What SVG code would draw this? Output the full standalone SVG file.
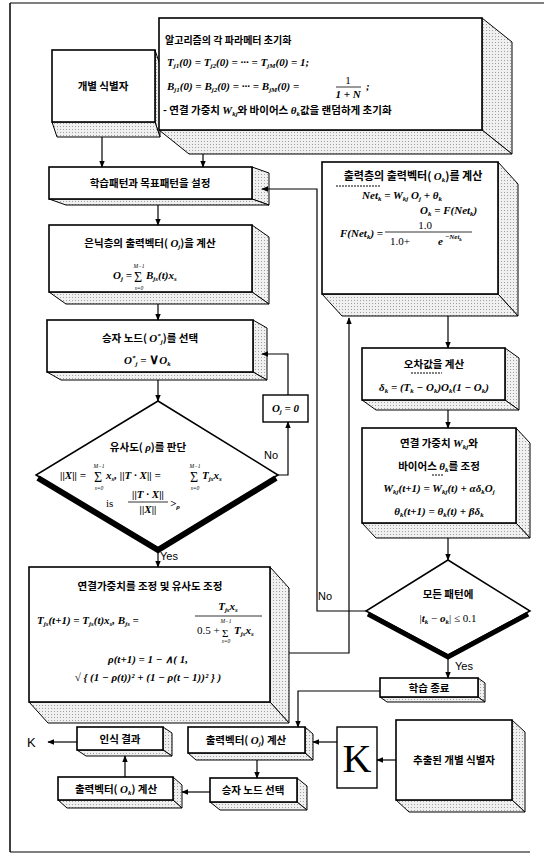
<svg xmlns="http://www.w3.org/2000/svg" width="544" height="854" viewBox="0 0 544 854">
<defs>
<marker id="ah" viewBox="0 0 10 10" refX="9" refY="5" markerWidth="7" markerHeight="7" orient="auto-start-reverse" markerUnits="userSpaceOnUse">
<path d="M0,1 L10,5 L0,9 z" fill="#000"/>
</marker>
<pattern id="dots" width="3" height="3" patternUnits="userSpaceOnUse">
<rect width="3" height="3" fill="#f0f0f0"/>
<rect width="1" height="1" fill="#a0a0a0"/>
</pattern>
</defs>
<style>
.f{fill:#fff;stroke:#000;stroke-width:1.6}
.s{fill:url(#dots);stroke:#000;stroke-width:1}
.k{font-family:"Noto Sans CJK KR","Noto Sans",sans-serif;font-weight:bold;font-size:10.5px;fill:#000}
.m{font-family:"Liberation Serif",serif;font-style:italic;font-weight:bold;font-size:11px;fill:#000}
.r{font-family:"Liberation Serif",serif;font-size:11px;fill:#000}
.sb{font-size:7px}
.sg{font-family:"Liberation Serif",serif;font-size:14px;fill:#000}
.lim{font-family:"Liberation Serif",serif;font-size:5.5px;font-style:italic;fill:#000}
.c{stroke:#000;stroke-width:1.2;fill:none}
.a{marker-end:url(#ah)}
.th{stroke:#000;stroke-width:6;fill:none;stroke-linejoin:miter}
.lb{font-family:"Liberation Sans",sans-serif;font-size:11px;fill:#000}
</style>

<!-- frame -->
<g id="frame">
<line x1="10" y1="3" x2="544" y2="3" stroke="#000" stroke-width="1.2"/>
<line x1="10" y1="3" x2="10" y2="852" stroke="#000" stroke-width="1.5"/>
<line x1="10" y1="852" x2="530" y2="852" stroke="#000" stroke-width="1.2"/>
</g>

<!-- nodes -->
<g id="n_id">
<polygon class="s" points="155,50 160,65 160,137 155,122"/>
<polygon class="s" points="52,122 155,122 160,137 57,137"/>
<rect class="f" x="52" y="50" width="103" height="72"/>
<text class="k" x="103" y="90" text-anchor="middle">개별 식별자</text>
</g>

<g id="n_init">
<polygon class="s" points="482,18 512,42 512,154 482,130"/>
<polygon class="s" points="159,130 482,130 512,154 189,154"/>
<rect class="f" x="159" y="18" width="323" height="112"/>
<text class="k" x="165" y="44" style="font-size:10px">알고리즘의 각 파라메터 초기화</text>
<text class="m" x="167" y="66">T<tspan class="sb" dy="2">j1</tspan><tspan dy="-2">(0) = T</tspan><tspan class="sb" dy="2">j2</tspan><tspan dy="-2">(0) = ··· = T</tspan><tspan class="sb" dy="2">jM</tspan><tspan dy="-2">(0) = 1;</tspan></text>
<text class="m" x="167" y="90">B<tspan class="sb" dy="2">j1</tspan><tspan dy="-2">(0) = B</tspan><tspan class="sb" dy="2">j2</tspan><tspan dy="-2">(0) = ··· = B</tspan><tspan class="sb" dy="2">jM</tspan><tspan dy="-2">(0) = </tspan></text>
<text class="r" x="348" y="84" text-anchor="middle">1</text>
<line x1="336" y1="87" x2="361" y2="87" stroke="#000" stroke-width="0.8"/>
<text class="m" x="348" y="98" text-anchor="middle">1 + N</text>
<text class="m" x="366" y="90">;</text>
<text class="k" x="163" y="114">- 연결 가중치  <tspan class="m">W</tspan><tspan class="m sb" dy="2">kj</tspan><tspan dy="-2">와 바이어스  </tspan><tspan class="m">θ</tspan><tspan class="m sb" dy="2">k</tspan><tspan dy="-2">값을 랜덤하게 초기화</tspan></text>
</g>

<g id="n_set">
<polygon class="s" points="252,167 269,173 269,205 252,199"/>
<polygon class="s" points="49,199 252,199 269,205 66,205"/>
<rect class="f" x="49" y="167" width="203" height="32"/>
<text class="k" x="150" y="187" text-anchor="middle">학습패턴과 목표패턴을 설정</text>
</g>

<g id="n_hidden">
<polygon class="s" points="252,225 269,237 269,304 252,292"/>
<polygon class="s" points="49,292 252,292 269,304 66,304"/>
<rect class="f" x="49" y="225" width="203" height="67"/>
<text class="k" x="150" y="247" text-anchor="middle">은닉층의 출력벡터( <tspan class="m">O</tspan><tspan class="m sb" dy="2">j</tspan><tspan dy="-2">)을 계산</tspan></text>
<text class="m" x="113" y="279">O<tspan class="sb" dy="2">j</tspan><tspan dy="-2"> = </tspan></text>
<text class="sg" x="134" y="282">Σ</text>
<text class="lim" x="139" y="268" text-anchor="middle">M−1</text>
<text class="lim" x="139" y="290" text-anchor="middle">s=0</text>
<text class="m" x="146" y="279">B<tspan class="sb" dy="2">js</tspan><tspan dy="-2">(t)x</tspan><tspan class="sb" dy="2">s</tspan></text>
</g>

<g id="n_winner">
<polygon class="s" points="253,320 267,328 267,380 253,372"/>
<polygon class="s" points="47,372 253,372 267,380 61,380"/>
<rect class="f" x="47" y="320" width="206" height="52"/>
<text class="k" x="150" y="342" text-anchor="middle">승자 노드( <tspan class="m">O</tspan><tspan class="m sb" dy="-4">*</tspan><tspan class="m sb" dy="6">j</tspan><tspan dy="-2">)를 선택</tspan></text>
<text class="m" x="124" y="364">O<tspan class="sb" dy="-4">*</tspan><tspan class="sb" dy="6">j</tspan><tspan dy="-2"> = </tspan><tspan class="r" style="font-size:14px;font-style:normal">∨</tspan><tspan>O</tspan><tspan class="sb" dy="2">k</tspan></text>
</g>

<g id="n_sim">
<polygon points="158,401 278,475 158,548 36,475" fill="#fff" stroke="#000" stroke-width="1.5"/>
<polyline class="th" points="38,478 158,550 276,478"/>
<text class="k" x="148" y="451" text-anchor="middle">유사도( <tspan class="m">ρ</tspan>)를 판단</text>
<text class="m" x="60" y="479">||X|| = </text>
<text class="sg" x="94" y="482">Σ</text>
<text class="lim" x="99" y="468" text-anchor="middle">M−1</text>
<text class="lim" x="99" y="490" text-anchor="middle">s=0</text>
<text class="m" x="106" y="479">x<tspan class="sb" dy="2">s</tspan><tspan dy="-2">,    ||T · X|| = </tspan></text>
<text class="sg" x="190" y="482">Σ</text>
<text class="lim" x="195" y="468" text-anchor="middle">M−1</text>
<text class="lim" x="195" y="490" text-anchor="middle">s=0</text>
<text class="m" x="202" y="479">T<tspan class="sb" dy="2">js</tspan><tspan dy="-2">x</tspan><tspan class="sb" dy="2">s</tspan></text>
<text class="r" x="106" y="507">is</text>
<text class="m" x="148" y="498" text-anchor="middle">||T · X||</text>
<line x1="128" y1="502" x2="168" y2="502" stroke="#000" stroke-width="0.8"/>
<text class="m" x="148" y="513" text-anchor="middle">||X||</text>
<text class="m" x="170" y="507">&gt;<tspan class="sb" dy="2">ρ</tspan></text>
</g>

<g id="n_zero">
<rect x="263" y="395" width="45" height="27" fill="#fff" stroke="#000" stroke-width="1.4"/>
<text class="m" x="285.5" y="412" text-anchor="middle">O<tspan class="sb" dy="2">j</tspan><tspan dy="-2"> = 0</tspan></text>
</g>

<g id="n_update">
<polygon class="s" points="270,567 289,588 289,723 270,702"/>
<polygon class="s" points="29,702 270,702 289,723 48,723"/>
<rect class="f" x="29" y="567" width="241" height="135"/>
<text class="k" x="150" y="590" text-anchor="middle">연결가중치를 조정 및 유사도 조정</text>
<text class="m" x="37" y="624">T<tspan class="sb" dy="2">js</tspan><tspan dy="-2">(t+1) = T</tspan><tspan class="sb" dy="2">js</tspan><tspan dy="-2">(t)x</tspan><tspan class="sb" dy="2">s</tspan><tspan dy="-2">,  B</tspan><tspan class="sb" dy="2">js</tspan><tspan dy="-2"> = </tspan></text>
<text class="m" x="228" y="610" text-anchor="middle">T<tspan class="sb" dy="2">js</tspan><tspan dy="-2">x</tspan><tspan class="sb" dy="2">s</tspan></text>
<line x1="195" y1="616" x2="262" y2="616" stroke="#000" stroke-width="0.8"/>
<text class="r" x="197" y="634">0.5 +</text>
<text class="sg" x="222" y="637" style="font-size:11px">Σ</text>
<text class="lim" x="226" y="622.5" text-anchor="middle">M−1</text>
<text class="lim" x="226" y="643" text-anchor="middle">s=0</text>
<text class="m" x="234" y="634">T<tspan class="sb" dy="2">js</tspan><tspan dy="-2">x</tspan><tspan class="sb" dy="2">s</tspan></text>
<text class="m" x="148" y="663" text-anchor="middle">ρ(t+1) = 1 − ∧( 1,</text>
<text class="m" x="148" y="681" text-anchor="middle">√  { (1 − ρ(t))² + (1 − ρ(t − 1))² } )</text>
</g>

<g id="n_output">
<polygon class="s" points="498,162 518,184 518,316 498,294"/>
<polygon class="s" points="322,294 498,294 518,316 342,316"/>
<rect class="f" x="322" y="162" width="176" height="132"/>
<text class="k" x="413" y="180" text-anchor="middle" style="font-size:11px">출력층의 출력벡터( <tspan class="m">O</tspan><tspan class="m sb" dy="2">k</tspan><tspan dy="-2">)를 계산</tspan></text>
<line x1="336" y1="186" x2="381" y2="186" stroke="#000" stroke-width="1" stroke-dasharray="2,1"/>
<text class="m" x="402" y="199" text-anchor="middle">Net<tspan class="sb" dy="2">k</tspan><tspan dy="-2"> = W</tspan><tspan class="sb" dy="2">kj</tspan><tspan dy="-2"> O</tspan><tspan class="sb" dy="2">j</tspan><tspan dy="-2"> + θ</tspan><tspan class="sb" dy="2">k</tspan></text>
<text class="m" x="420" y="214">O<tspan class="sb" dy="2">k</tspan><tspan dy="-2"> = F(Net</tspan><tspan class="sb" dy="2">k</tspan><tspan dy="-2">)</tspan></text>
<text class="m" x="340" y="237">F(Net<tspan class="sb" dy="2">k</tspan><tspan dy="-2">) = </tspan></text>
<text class="r" x="425" y="229" text-anchor="middle">1.0</text>
<line x1="385" y1="232" x2="472" y2="232" stroke="#000" stroke-width="0.8"/>
<text class="r" x="390" y="245">1.0+</text>
<text class="m" x="438" y="245">e</text>
<text class="m sb" x="445" y="239">−Net<tspan style="font-size:5px" dy="2">k</tspan></text>
</g>

<g id="n_error">
<polygon class="s" points="505,348 519,358 519,410 505,400"/>
<polygon class="s" points="362,400 505,400 519,410 376,410"/>
<rect class="f" x="362" y="348" width="143" height="52"/>
<text class="k" x="434" y="368" text-anchor="middle">오차값을 계산</text>
<line x1="411" y1="373" x2="442" y2="373" stroke="#000" stroke-width="1" stroke-dasharray="2,1"/>
<text class="m" x="434" y="391" text-anchor="middle">δ<tspan class="sb" dy="2">k</tspan><tspan dy="-2"> = (T</tspan><tspan class="sb" dy="2">k</tspan><tspan dy="-2"> − O</tspan><tspan class="sb" dy="2">k</tspan><tspan dy="-2">)O</tspan><tspan class="sb" dy="2">k</tspan><tspan dy="-2">(1 − O</tspan><tspan class="sb" dy="2">k</tspan><tspan dy="-2">)</tspan></text>
</g>

<g id="n_adjust">
<polygon class="s" points="516,428 530,443 530,538 516,523"/>
<polygon class="s" points="362,523 516,523 530,538 376,538"/>
<rect class="f" x="362" y="428" width="154" height="95"/>
<text class="k" x="439" y="447" text-anchor="middle">연결 가중치  <tspan class="m">W</tspan><tspan class="m sb" dy="2">kj</tspan><tspan dy="-2">와</tspan></text>
<text class="k" x="439" y="470" text-anchor="middle">바이어스  <tspan class="m">θ</tspan><tspan class="m sb" dy="2">k</tspan><tspan dy="-2">를 조정</tspan></text>
<line x1="432" y1="475" x2="444" y2="475" stroke="#000" stroke-width="1" stroke-dasharray="2,1"/>
<text class="m" x="439" y="492" text-anchor="middle">W<tspan class="sb" dy="2">kj</tspan><tspan dy="-2">(t+1) = W</tspan><tspan class="sb" dy="2">kj</tspan><tspan dy="-2">(t) + αδ</tspan><tspan class="sb" dy="2">k</tspan><tspan dy="-2">O</tspan><tspan class="sb" dy="2">j</tspan></text>
<text class="m" x="439" y="515" text-anchor="middle">θ<tspan class="sb" dy="2">k</tspan><tspan dy="-2">(t+1) = θ</tspan><tspan class="sb" dy="2">k</tspan><tspan dy="-2">(t) + βδ</tspan><tspan class="sb" dy="2">k</tspan></text>
</g>

<g id="n_all">
<polygon points="448,560 530,611 448,655 366,611" fill="#fff" stroke="#000" stroke-width="1.5"/>
<polyline class="th" points="368,614 448,657 528,614" style="stroke-width:5"/>
<text class="k" x="448" y="598" text-anchor="middle">모든 패턴에</text>
<text class="r" x="448" y="622" text-anchor="middle">|<tspan class="m">t</tspan><tspan class="m sb" dy="2">k</tspan><tspan dy="-2"> − </tspan><tspan class="m">o</tspan><tspan class="m sb" dy="2">k</tspan><tspan dy="-2">| ≤ 0.1</tspan></text>
</g>

<g id="n_end">
<polygon class="s" points="478,678 485,683 485,702 478,697"/>
<polygon class="s" points="380,697 478,697 485,702 387,702"/>
<rect class="f" x="380" y="678" width="98" height="19"/>
<text class="k" x="429" y="692" text-anchor="middle">학습 종료</text>
</g>

<g id="n_outj">
<polygon class="s" points="305,727 313,734 313,760 305,753"/>
<polygon class="s" points="188,753 305,753 313,760 196,760"/>
<rect class="f" x="188" y="727" width="117" height="26"/>
<text class="k" x="246" y="744" text-anchor="middle">출력벡터( <tspan class="m">O</tspan><tspan class="m sb" dy="2">j</tspan><tspan dy="-2">) 계산</tspan></text>
</g>

<g id="n_K">
<rect x="337" y="727" width="40" height="61" fill="#fff" stroke="#000" stroke-width="1.4"/>
<text x="357" y="772" text-anchor="middle" font-family="Liberation Serif,serif" font-size="40">K</text>
</g>

<g id="n_extract">
<polygon class="s" points="512,720 525,732 525,812 512,800"/>
<polygon class="s" points="396,800 512,800 525,812 409,812"/>
<rect class="f" x="396" y="720" width="116" height="80"/>
<text class="k" x="454" y="764" text-anchor="middle">추출된 개별 식별자</text>
</g>

<g id="n_win2">
<polygon class="s" points="297,778 307,786 307,810 297,802"/>
<polygon class="s" points="210,802 297,802 307,810 220,810"/>
<rect class="f" x="210" y="778" width="87" height="24"/>
<text class="k" x="253" y="794" text-anchor="middle">승자 노드 선택</text>
</g>

<g id="n_outk">
<polygon class="s" points="173,777 182,785 182,808 173,800"/>
<polygon class="s" points="58,800 173,800 182,808 67,808"/>
<rect class="f" x="58" y="777" width="115" height="23"/>
<text class="k" x="116" y="793" text-anchor="middle">출력벡터( <tspan class="m">O</tspan><tspan class="m sb" dy="2">k</tspan><tspan dy="-2">) 계산</tspan></text>
</g>

<g id="n_result">
<polygon class="s" points="163,727 172,733 172,756 163,750"/>
<polygon class="s" points="77,750 163,750 172,756 86,756"/>
<rect class="f" x="77" y="727" width="86" height="23"/>
<text class="k" x="120" y="743" text-anchor="middle">인식 결과</text>
</g>

<!-- connectors -->
<g id="connectors">
<path class="c a" d="M102,137 V167"/>
<path class="c a" d="M203,154 V167"/>
<path class="c a" d="M158,205 V225"/>
<path class="c a" d="M158,304 V320"/>
<path class="c a" d="M158,380 V401"/>
<path class="c a" d="M278,475 H288 V422"/>
<path class="c a" d="M288,395 V354 H262"/>
<path class="c a" d="M158,550 V567"/>
<path class="c a" d="M289,653 H349 V318"/>
<path class="c a" d="M448,316 V348"/>
<path class="c a" d="M448,410 V428"/>
<path class="c a" d="M448,538 V560"/>
<path class="c a" d="M366,611 H317 V189 H262"/>
<path class="c a" d="M448,657 V678"/>
<path class="c a" d="M380,691 H298 V727"/>
<path class="c a" d="M396,760 H377"/>
<path class="c a" d="M337,742 H313"/>
<path class="c a" d="M257,760 V778"/>
<path class="c a" d="M210,792 H182"/>
<path class="c a" d="M125,777 V756"/>
<path class="c a" d="M77,742 H48"/>
<text class="lb" x="160" y="560">Yes</text>
<text class="lb" x="264" y="459">No</text>
<text class="lb" x="318" y="600">No</text>
<text class="lb" x="455" y="670">Yes</text>
<text class="lb" x="27" y="747" style="font-size:13px">K</text>
</g>
</svg>
